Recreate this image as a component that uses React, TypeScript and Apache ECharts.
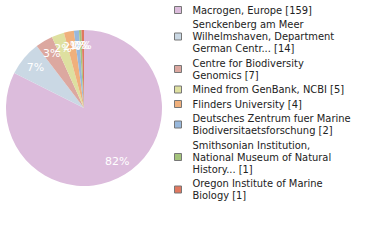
import React, { useEffect, useRef } from "react";
import * as echarts from "echarts";

const names = [
  "Macrogen, Europe [159]",
  "Senckenberg am Meer\nWilhelmshaven, Department\nGerman Centr... [14]",
  "Centre for Biodiversity\nGenomics [7]",
  "Mined from GenBank, NCBI [5]",
  "Flinders University [4]",
  "Deutsches Zentrum fuer Marine\nBiodiversitaetsforschung [2]",
  "Smithsonian Institution,\nNational Museum of Natural\nHistory... [1]",
  "Oregon Institute of Marine\nBiology [1]",
];
const values = [159, 14, 7, 5, 4, 2, 1, 1];
const colors = ["#dcbcdc", "#cad8e4", "#dca8a0", "#dee0a0", "#f0b07c", "#98b8dc", "#a4c47c", "#e07860"];

const total = values.reduce((a, b) => a + b, 0);

export default function App() {
  const ref = useRef<HTMLDivElement>(null);
  useEffect(() => {
    const chart = echarts.init(ref.current!, null, { renderer: "svg" });
    const data = names.map((n, i) => ({ name: n, value: values[i], itemStyle: { color: colors[i] } }));
    chart.setOption({
      animation: false,
      color: colors,
      legend: {
        orient: "vertical",
        left: 174,
        top: 4,
        padding: 0,
        itemWidth: 7,
        itemHeight: 7,
        itemGap: 2.5,
        icon: "rect",
        itemStyle: { borderColor: "#777", borderWidth: 1 },
        textStyle: {
          fontFamily: "DejaVu Sans Condensed",
          fontSize: 11,
          color: "#222",
          lineHeight: 12,
          padding: [0, 0, 0, 6],
        },
        data: names,
        selectedMode: false,
      },
      series: [
        {
          type: "pie",
          center: [84, 108],
          radius: [0, 78],
          startAngle: 90,
          clockwise: true,
          silent: true,
          label: { show: false },
          labelLine: { show: false },
          data,
        },
        {
          type: "pie",
          center: [84, 108],
          radius: [42, 78],
          startAngle: 90,
          clockwise: true,
          silent: true,
          labelLayout: { hideOverlap: false },
          label: {
            show: true,
            position: "inside",
            color: "#fff",
            fontFamily: "DejaVu Sans",
            fontSize: 11,
            formatter: (p: any) => Math.floor((p.value / total) * 100) + "%",
          },
          labelLine: { show: false },
          itemStyle: { color: "rgba(0,0,0,0)" },
          data: names.map((n, i) => ({ name: n, value: values[i], itemStyle: { color: "rgba(0,0,0,0)" } })),
        },
      ],
    });
    return () => chart.dispose();
  }, []);
  return <div ref={ref} style={{ position: "absolute", left: 0, top: 0, width: 380, height: 240 }} />;
}
